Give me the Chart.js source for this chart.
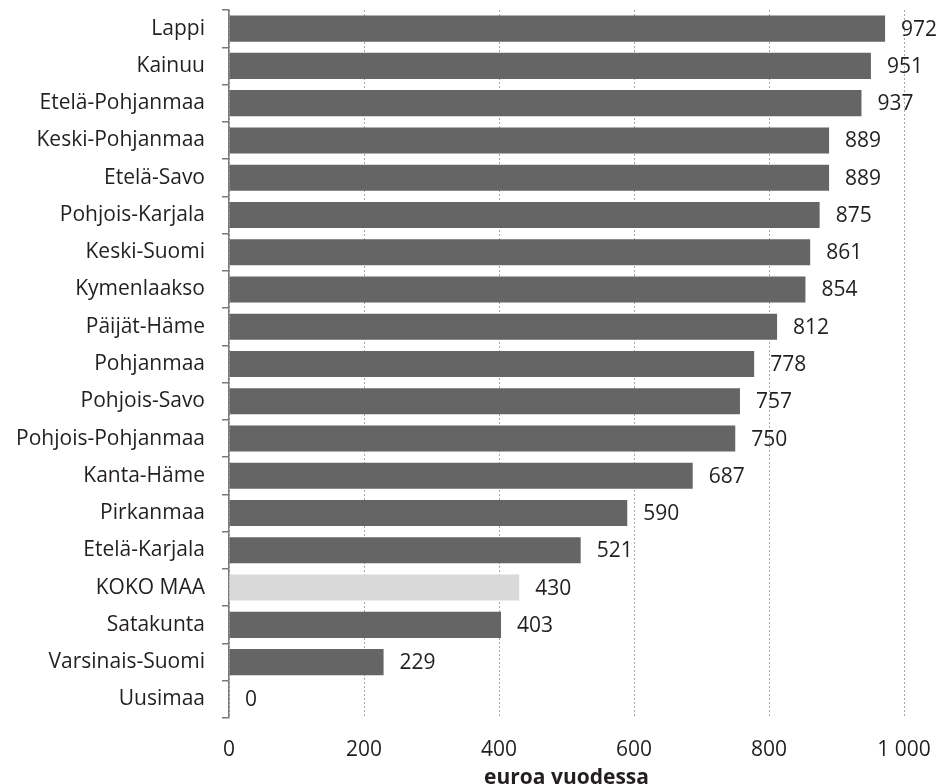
<!DOCTYPE html>
<html>
<head>
<meta charset="utf-8">
<title>euroa vuodessa</title>
<script src="https://cdn.jsdelivr.net/npm/chart.js@4"></script>
<style>
  body { margin: 0; background: #fff; }
  canvas { display: block; }
</style>
</head>
<body>
<canvas id="chart" width="943" height="784"></canvas>
<script>
// Regions and yearly amounts (euroa vuodessa)
const regions = [
  "Lappi", "Kainuu", "Etelä-Pohjanmaa", "Keski-Pohjanmaa", "Etelä-Savo",
  "Pohjois-Karjala", "Keski-Suomi", "Kymenlaakso", "Päijät-Häme", "Pohjanmaa",
  "Pohjois-Savo", "Pohjois-Pohjanmaa", "Kanta-Häme", "Pirkanmaa", "Etelä-Karjala",
  "KOKO MAA", "Satakunta", "Varsinais-Suomi", "Uusimaa"
];
const amounts = [972, 951, 937, 889, 889, 875, 861, 854, 812, 778, 757, 750, 687, 590, 521, 430, 403, 229, 0];
const xTicks = [0, 200, 400, 600, 800, 1000];

const FONT = "'Open Sans', sans-serif";
const TEXT = "#231f20";

// whole country bar is light, the rest dark
const barColors = regions.map((r) => (r === "KOKO MAA" ? "#d9d9da" : "#656566"));

// draw the value right of each bar
const valueLabels = {
  id: "valueLabels",
  afterDatasetsDraw(chart) {
    const ctx = chart.ctx;
    const meta = chart.getDatasetMeta(0);
    ctx.save();
    ctx.font = "21px " + FONT;
    ctx.fillStyle = TEXT;
    ctx.textAlign = "left";
    ctx.textBaseline = "middle";
    meta.data.forEach((bar, i) => {
      ctx.fillText(String(amounts[i]), bar.x + 16, bar.y + 1);
    });
    ctx.restore();
  },
};

const ctx = document.getElementById("chart").getContext("2d");
new Chart(ctx, {
  type: "bar",
  data: {
    labels: regions,
    datasets: [
      {
        data: amounts,
        backgroundColor: barColors,
        barPercentage: 0.7,
        categoryPercentage: 1,
      },
    ],
  },
  options: {
    indexAxis: "y",
    responsive: false,
    animation: false,
    layout: { padding: { top: 10, right: 39, left: 0, bottom: 0 } },
    plugins: {
      legend: { display: false },
      tooltip: { enabled: false },
    },
    scales: {
      x: {
        min: 0,
        max: 1000,
        afterBuildTicks(scale) {
          scale.ticks = xTicks.map((v) => ({ value: v }));
        },
        afterFit(scale) {
          scale.height = 66;
          // keep the plot right edge where the reference has it
          scale.paddingLeft = 0;
          scale.paddingRight = 0;
        },
        grid: {
          color: "#a8a8a8",
          lineWidth: 1,
          drawTicks: false,
        },
        border: { display: false, dash: [2, 2] },
        ticks: {
          padding: 19,
          color: TEXT,
          font: { family: FONT, size: 21 },
          callback: (v) => (v === 1000 ? "1 000" : String(v)),
        },
        title: {
          display: true,
          text: "euroa vuodessa",
          color: TEXT,
          font: { family: FONT, size: 21, weight: "bold", lineHeight: 1 },
          padding: { top: 0, bottom: -5 },
        },
      },
      y: {
        afterFit(scale) {
          scale.width = 229;
          // no extra room above/below the category labels
          scale.paddingTop = 0;
          scale.paddingBottom = 0;
        },
        grid: {
          drawOnChartArea: false,
          tickLength: 7,
          color: "#7a7a7a",
          lineWidth: 1.5,
        },
        border: { color: "#7a7a7a", width: 1.5 },
        ticks: {
          padding: 17,
          color: TEXT,
          font: { family: FONT, size: 21 },
        },
      },
    },
  },
  plugins: [valueLabels],
});
</script>
</body>
</html>
